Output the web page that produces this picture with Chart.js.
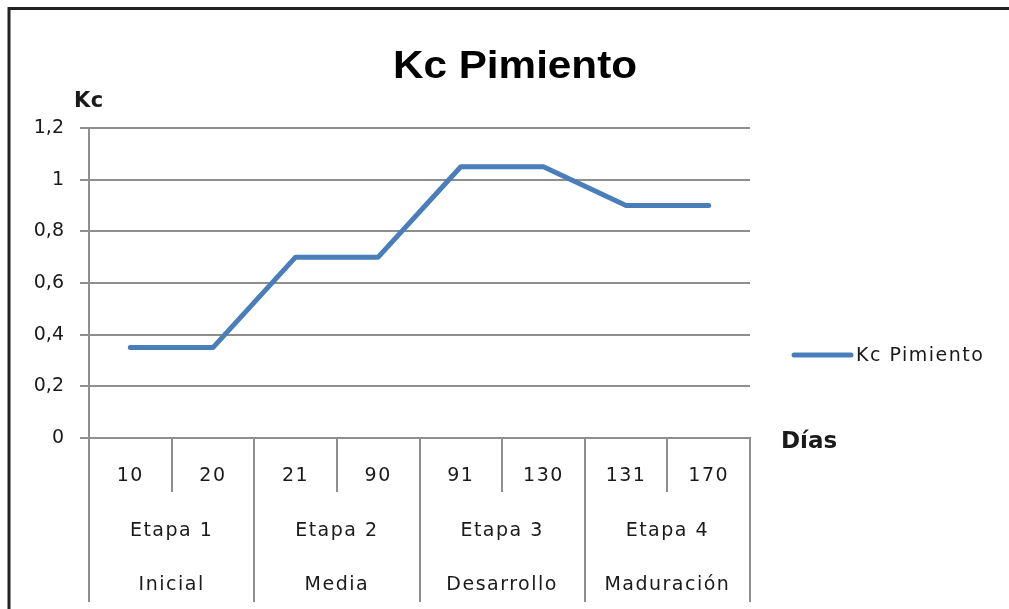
<!DOCTYPE html>
<html>
<head>
<meta charset="utf-8">
<title>Kc Pimiento</title>
<script src="https://cdn.jsdelivr.net/npm/chart.js@4/dist/chart.umd.min.js"></script>
<style>
  html, body { margin: 0; padding: 0; background: #fff; }
  #chart { display: block; }
</style>
</head>
<body>
<canvas id="chart" width="1009" height="609"></canvas>
<script>
// days after planting, one per point
const days = ['10', '20', '21', '90', '91', '130', '131', '170'];
// each stage covers two of the day labels
const stages = ['Etapa 1', 'Etapa 2', 'Etapa 3', 'Etapa 4'];
const phases = ['Inicial', 'Media', 'Desarrollo', 'Maduración'];
const kcValues = [0.35, 0.35, 0.7, 0.7, 1.05, 1.05, 0.9, 0.9];

const seriesName = 'Kc Pimiento';
const lineColor = '#4A7EBB';
const gridColor = '#8e8e8e';
const textColor = '#1a1a1a';
const labelFont = '19px "DejaVu Sans"';

function drawText(ctx, txt, x, y, font, align, spacing) {
  ctx.save();
  ctx.font = font;
  ctx.fillStyle = textColor;
  ctx.textBaseline = 'middle';
  ctx.letterSpacing = (spacing || 0) + 'px';
  let w = ctx.measureText(txt).width;
  let left = align == 'center' ? x - w / 2 : (align == 'right' ? x - w : x);
  ctx.textAlign = 'left';
  ctx.fillText(txt, left, y);
  ctx.restore();
}

// frame, titles, legend and the three-row category axis
const excelBits = {
  id: 'excelBits',
  afterDraw(chart) {
    const ctx = chart.ctx;
    const x = chart.scales.x;
    const area = chart.chartArea;

    // outer frame (top and left edges only show in the picture)
    ctx.save();
    ctx.strokeStyle = '#222';
    ctx.lineWidth = 3;
    ctx.beginPath();
    ctx.moveTo(9, 609);
    ctx.lineTo(9, 8.5);
    ctx.lineTo(1009, 8.5);
    ctx.stroke();
    ctx.restore();

    // chart title, stretched a bit to match width
    ctx.save();
    ctx.font = 'bold 38px "Liberation Sans"';
    ctx.fillStyle = '#000';
    ctx.textBaseline = 'alphabetic';
    let tw = ctx.measureText(seriesName).width;
    let sx = 244 / tw;
    ctx.translate(393, 78);
    ctx.scale(sx, 1);
    ctx.fillText(seriesName, 0, 0);
    ctx.restore();

    // axis titles
    drawText(ctx, 'Kc', 74, 102, 'bold 21px "DejaVu Sans"', 'left', 0.5);
    drawText(ctx, 'Días', 781, 442, 'bold 23px "DejaVu Sans"', 'left', 0);

    // legend
    ctx.save();
    ctx.strokeStyle = lineColor;
    ctx.lineWidth = 5;
    ctx.lineCap = 'round';
    ctx.beginPath();
    ctx.moveTo(794, 355);
    ctx.lineTo(851, 355);
    ctx.stroke();
    ctx.restore();
    drawText(ctx, seriesName, 856, 356, labelFont, 'left', 1.5);

    // separators under the axis
    const top = area.bottom;
    const bottom = 602;
    const step = x.width / days.length;
    ctx.save();
    ctx.strokeStyle = gridColor;
    ctx.lineWidth = 2;
    for (let i = 0; i <= days.length; i++) {
      let px = Math.round(x.left + i * step);
      let end = (i % 2 == 0) ? bottom : 492;
      ctx.beginPath();
      ctx.moveTo(px, top);
      ctx.lineTo(px, end);
      ctx.stroke();
    }
    ctx.restore();

    // row 1: days, rows 2 and 3: stage groups
    days.forEach((d, i) => {
      drawText(ctx, d, x.getPixelForValue(i), 476, labelFont, 'center', 1.5);
    });
    stages.forEach((s, i) => {
      let cx = (x.getPixelForValue(2 * i) + x.getPixelForValue(2 * i + 1)) / 2;
      drawText(ctx, s, cx, 531, labelFont, 'center', 1.5);
      drawText(ctx, phases[i], cx, 585, labelFont, 'center', 1.5);
    });
  }
};

new Chart(document.getElementById('chart'), {
  type: 'line',
  data: {
    labels: days,
    datasets: [{
      label: seriesName,
      data: kcValues,
      borderColor: lineColor,
      backgroundColor: lineColor,
      borderWidth: 5,
      pointRadius: 0,
      tension: 0,
      borderCapStyle: 'round',
      borderJoinStyle: 'round'
    }]
  },
  options: {
    responsive: false,
    animation: false,
    devicePixelRatio: 1,
    layout: { padding: { top: 128, right: 259, left: 0, bottom: 0 } },
    plugins: {
      legend: { display: false },
      title: { display: false },
      tooltip: { enabled: false }
    },
    scales: {
      x: {
        offset: true,
        grid: { display: false },
        border: { display: true, color: gridColor, width: 2 },
        ticks: { display: false },
        afterFit(s) { s.height = 171; }
      },
      y: {
        min: 0,
        max: 1.2,
        ticks: {
          stepSize: 0.2,
          padding: 16,
          color: textColor,
          font: { family: 'DejaVu Sans', size: 19 },
          callback: v => String(Math.round(v * 10) / 10).replace('.', ',')
        },
        grid: { color: gridColor, lineWidth: 2, tickLength: 9 },
        border: { display: true, color: gridColor, width: 2 },
        afterFit(s) { s.width = 89; }
      }
    }
  },
  plugins: [excelBits]
});
</script>
</body>
</html>
